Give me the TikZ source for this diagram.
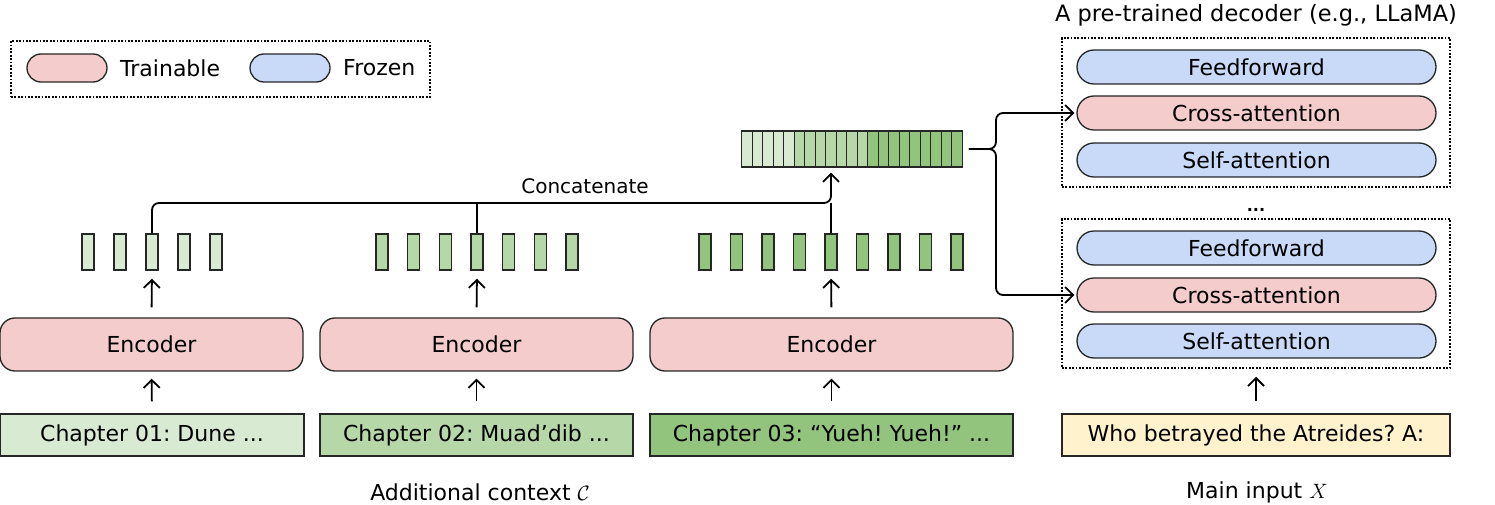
\documentclass[tikz,border=0pt]{standalone}
\usepackage{fontspec}
\setmainfont{DejaVu Sans}
\usetikzlibrary{arrows.meta}
\usetikzlibrary{positioning}
\definecolor{trainpink}{HTML}{F4CCCC}
\definecolor{frozenblue}{HTML}{C9DAF8}
\definecolor{greenA}{HTML}{D9EAD3}
\definecolor{greenB}{HTML}{B6D7A8}
\definecolor{greenC}{HTML}{93C47D}
\definecolor{inputyellow}{HTML}{FFF2CC}
\tikzset{
    base/.style={draw=black!85, line width=1.3pt, inner sep=0pt},
    trainable/.style={base, fill=trainpink, rounded corners=#1},
    frozen/.style={base, fill=frozenblue, rounded corners=#1},
    chapter/.style={base, fill=#1, minimum height=42},
    tok/.style={base, fill=#1, minimum width=12, minimum height=36},
    cell/.style={base, fill=#1, minimum width=10.5, minimum height=36},
    dotbox/.style={draw=black, line width=1.5pt, dash pattern=on 1.8pt off 1.6pt},
    arr/.style={-{Straight Barb[length=8pt,width=16pt]}, line width=1.8pt},
    layer/.style={minimum width=359, minimum height=34},
}
\frenchspacing
\begin{document}
\begin{tikzpicture}[x=1pt, y=-1pt, every node/.style={font=\fontsize{22}{26}\selectfont}]
    \useasboundingbox (0,0) rectangle (1495,505);

    % legend
    \node[dotbox, minimum width=419, minimum height=56] (legend) at (220.5,69) {};
    \node[trainable=14pt, minimum width=80, minimum height=28] (lgtrain) at (67,68) {};
    \node[right=9pt of lgtrain] (lgtraintxt) {Trainable};
    \node[frozen=14pt, minimum width=80, minimum height=28] (lgfrozen) at (290,68) {};
    \node[right=9pt of lgfrozen] (lgfrozentxt) {Frozen};

    % chapters and encoders
    \node[chapter=greenA, minimum width=304] (ch1) at (152,435) {Chapter 01: Dune ...};
    \node[chapter=greenB, minimum width=313] (ch2) at (476.5,435) {Chapter 02: Muad'dib ...};
    \node[chapter=greenC, minimum width=363] (ch3) at (831.5,435) {Chapter 03: ``Yueh! Yueh!'' ...};
    \node[trainable=15pt, minimum width=303, minimum height=53] (enc1) at (151.5,344.5) {Encoder};
    \node[trainable=15pt, minimum width=313, minimum height=53] (enc2) at (476.5,344.5) {Encoder};
    \node[trainable=15pt, minimum width=363, minimum height=53] (enc3) at (831.5,344.5) {Encoder};
    \draw[arr, shorten <=12pt, shorten >=7pt] (ch1.north) -- (enc1.south);
    \draw[arr, shorten <=12pt, shorten >=7pt] (ch2.north) -- (enc2.south);
    \draw[arr, shorten <=12pt, shorten >=7pt] (ch3.north) -- (enc3.south);

    % encoded tokens
    \foreach \i in {1,...,5}
        \node[tok=greenA] (ta\i) at ({88+32*(\i-1)},252) {};
    \foreach \i in {1,...,7}
        \node[tok=greenB] (tb\i) at ({382+31.67*(\i-1)},252) {};
    \foreach \i in {1,...,9}
        \node[tok=greenC] (tc\i) at ({705+31.5*(\i-1)},252) {};
    \draw[arr, shorten <=10pt, shorten >=8pt] (enc1.north) -- (ta3.south);
    \draw[arr, shorten <=10pt, shorten >=8pt] (enc2.north) -- (tb4.south);
    \draw[arr, shorten <=10pt, shorten >=8pt] (enc3.north) -- (tc5.south);

    % concatenated sequence
    \foreach \i in {1,...,21} {
        \ifnum\i<6 \def\cfill{greenA}\else\ifnum\i<13 \def\cfill{greenB}\else\def\cfill{greenC}\fi\fi
        \node[cell=\cfill] (cell\i) at ({741.7+10.5*(\i-0.5)},149) {};
    }
    \node[base, minimum width=220.5, minimum height=36] (bar) at (852,149) {};
    \coordinate (cat) at (0,203);
    \draw[line width=1.8pt] (tb4.north) -- (tb4.north |- cat);
    \draw[line width=1.8pt] (tc5.north) -- (tc5.north |- cat);
    \draw[arr, rounded corners=7pt, shorten >=5pt] (ta3.north) |- (tc5.north |- cat) -- (tc5.north |- bar.south);
    \node (concat) at (585,186) {\fontsize{20}{23}\selectfont Concatenate};

    % decoder
    \node (dectitle) at (1256,15) {\fontsize{22.5}{26}\selectfont A pre-trained decoder (e.g., LLaMA)};
    \node[dotbox, minimum width=388, minimum height=149] (blk1) at (1256,112.5) {};
    \node[frozen=17pt, layer] (ff1) at (1256.5,67) {Feedforward};
    \node[trainable=17pt, layer] (ca1) at (1256.5,113) {Cross-attention};
    \node[frozen=17pt, layer] (sa1) at (1256.5,160) {Self-attention};
    \node (dots) at (1256,210) {\fontsize{16}{18}\selectfont\textbf{...}};
    \node[dotbox, minimum width=388, minimum height=149] (blk2) at (1256,293.5) {};
    \node[frozen=17pt, layer] (ff2) at (1256.5,248) {Feedforward};
    \node[trainable=17pt, layer] (ca2) at (1256.5,295) {Cross-attention};
    \node[frozen=17pt, layer] (sa2) at (1256.5,341) {Self-attention};
    \node[chapter=inputyellow, minimum width=388] (inp) at (1256,435) {Who betrayed the Atreides? A:};
    \draw[arr, shorten <=12pt, shorten >=8pt] (inp.north) -- (blk2.south);

    % brace to the cross-attention layers
    \coordinate (jn) at (996,149);
    \draw[arr, rounded corners=7pt, shorten >=2pt] ([xshift=6pt]bar.east) -- (jn) |- (ca1.west);
    \draw[arr, rounded corners=7pt, shorten >=2pt] ([xshift=6pt]bar.east) -- (jn) |- (ca2.west);

    % captions
    \node (ctxlabel) at (480,492) {Additional context $\mathcal{C}$};
    \node (inplabel) at (1257,492) {Main input $X$};
\end{tikzpicture}
\end{document}
